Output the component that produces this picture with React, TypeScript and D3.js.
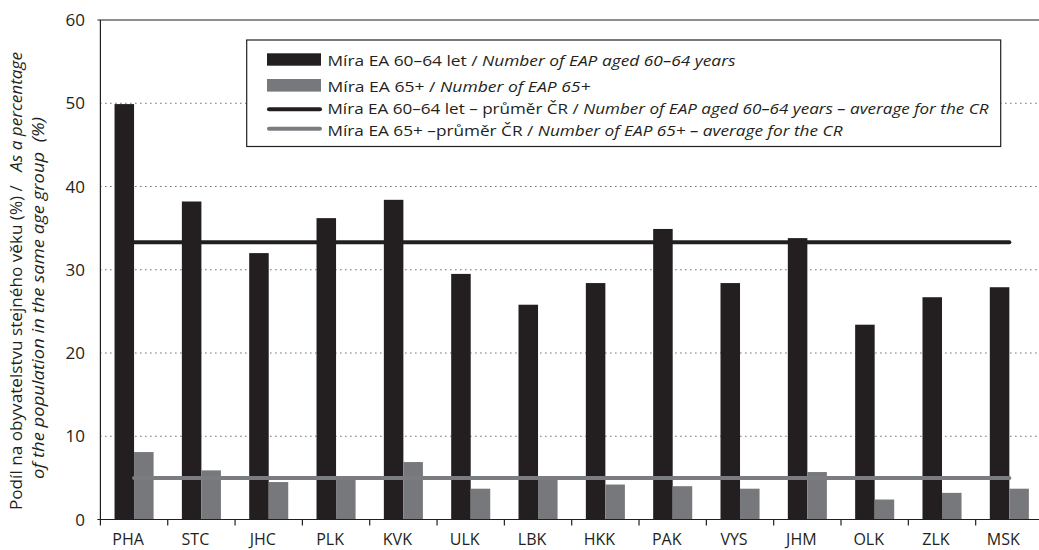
// Economic activity rates of older people by region
import React, { useEffect, useRef } from 'react';
import * as d3 from 'd3';

const regions = ['PHA', 'STC', 'JHC', 'PLK', 'KVK', 'ULK', 'LBK', 'HKK', 'PAK', 'VYS', 'JHM', 'OLK', 'ZLK', 'MSK'];
const rate6064 = [49.9, 38.2, 32.0, 36.2, 38.4, 29.5, 25.8, 28.4, 34.9, 28.4, 33.8, 23.4, 26.7, 27.9];
const rate65plus = [8.1, 5.9, 4.5, 5.0, 6.9, 3.7, 5.0, 4.2, 4.0, 3.7, 5.7, 2.4, 3.2, 3.7];
const avg6064 = 33.3;
const avg65plus = 5.0;
const yTicks = [0, 10, 20, 30, 40, 50, 60];
const gridTicks = [10, 20, 30, 40, 50];

const legendRegular = ['Míra EA 60–64 let / ', 'Míra EA 65+ / ', 'Míra EA 60–64 let – průměr ČR / ', 'Míra EA 65+ –průměr ČR / '];
const legendItalic = [
  'Number of EAP aged 60–64 years',
  'Number of EAP 65+',
  'Number of EAP aged 60–64 years – average for the CR',
  'Number of EAP 65+ – average for the CR',
];

const BLACK = '#231f20';
const GRAY = '#77787b';
const GRAY_LINE = '#7b7c7f';

const App: React.FC = () => {
  const svgRef = useRef<SVGSVGElement>(null);

  useEffect(() => {
    if (!svgRef.current) return;
    const svg = d3.select(svgRef.current);
    svg.selectAll('*').remove();

    const width = 1039;
    const height = 550;
    const left = 100.4;
    const right = 1043;
    const top = 20;
    const bottom = 519.5;

    svg.attr('width', width).attr('height', height);

    const x = d3.scaleBand<string>()
      .domain(regions)
      .range([left, right])
      .paddingInner(0.42)
      .paddingOuter(0.21);
    const inner = d3.scaleBand<string>()
      .domain(['a', 'b'])
      .range([0, x.bandwidth()]);
    const y = d3.scaleLinear().domain([0, 60]).range([bottom, top]);

    // dotted gridlines
    svg.append('g')
      .selectAll('line')
      .data(gridTicks)
      .join('line')
      .attr('x1', left)
      .attr('x2', width)
      .attr('y1', d => y(d))
      .attr('y2', d => y(d))
      .attr('stroke', BLACK)
      .attr('stroke-width', 1)
      .attr('stroke-dasharray', '1 4');

    // bars
    const bars = svg.append('g');
    bars.selectAll('rect.a')
      .data(rate6064)
      .join('rect')
      .attr('class', 'a')
      .attr('x', (_, i) => x(regions[i])! + inner('a')!)
      .attr('y', d => y(d))
      .attr('width', inner.bandwidth())
      .attr('height', d => bottom - y(d))
      .attr('fill', BLACK);
    bars.selectAll('rect.b')
      .data(rate65plus)
      .join('rect')
      .attr('class', 'b')
      .attr('x', (_, i) => x(regions[i])! + inner('b')!)
      .attr('y', d => y(d))
      .attr('width', inner.bandwidth())
      .attr('height', d => bottom - y(d))
      .attr('fill', GRAY);

    // average lines
    const firstC = x(regions[0])! + x.bandwidth() / 2;
    const lastC = x(regions[regions.length - 1])! + x.bandwidth() / 2;
    svg.append('line')
      .attr('x1', firstC).attr('x2', lastC)
      .attr('y1', y(avg6064)).attr('y2', y(avg6064))
      .attr('stroke', BLACK).attr('stroke-width', 4).attr('stroke-linecap', 'round');
    svg.append('line')
      .attr('x1', firstC).attr('x2', lastC)
      .attr('y1', y(avg65plus)).attr('y2', y(avg65plus))
      .attr('stroke', GRAY_LINE).attr('stroke-width', 4).attr('stroke-linecap', 'round');

    // axes frame
    svg.append('line').attr('x1', left).attr('x2', left).attr('y1', top).attr('y2', bottom)
      .attr('stroke', BLACK).attr('stroke-width', 1.2);
    svg.append('line').attr('x1', left - 3).attr('x2', width).attr('y1', top).attr('y2', top)
      .attr('stroke', BLACK).attr('stroke-width', 1.2);
    svg.append('line').attr('x1', left - 3).attr('x2', width).attr('y1', bottom).attr('y2', bottom)
      .attr('stroke', BLACK).attr('stroke-width', 1.2);

    // category boundary ticks
    const step = x.step();
    svg.append('g')
      .selectAll('line')
      .data(regions)
      .join('line')
      .attr('x1', d => x(d)! - step * 0.21)
      .attr('x2', d => x(d)! - step * 0.21)
      .attr('y1', bottom)
      .attr('y2', bottom + 6)
      .attr('stroke', BLACK)
      .attr('stroke-width', 1.2);

    // category labels
    svg.append('g')
      .selectAll('text')
      .data(regions)
      .join('text')
      .attr('x', d => x(d)! + x.bandwidth() / 2 - 6)
      .attr('y', 545)
      .attr('text-anchor', 'middle')
      .style('font-size', '16px')
      .attr('fill', BLACK)
      .text(d => d);

    // y tick labels
    svg.append('g')
      .selectAll('text')
      .data(yTicks)
      .join('text')
      .attr('x', 85)
      .attr('y', d => y(d))
      .attr('dy', '0.36em')
      .attr('text-anchor', 'end')
      .style('font-size', '17px')
      .attr('fill', BLACK)
      .text(d => d);

    // y axis title
    const t1 = svg.append('text')
      .attr('transform', 'translate(22,510) rotate(-90)')
      .attr('textLength', 458)
      .attr('lengthAdjust', 'spacingAndGlyphs')
      .style('font-size', '16px')
      .style('white-space', 'pre')
      .attr('fill', BLACK);
    t1.append('tspan').text('Podíl na obyvatelstvu stejného věku (%) /   ');
    t1.append('tspan').style('font-style', 'italic').text('As a percentage');

    svg.append('text')
      .attr('transform', 'translate(44,479) rotate(-90)')
      .attr('textLength', 362)
      .attr('lengthAdjust', 'spacingAndGlyphs')
      .style('font-size', '16px')
      .style('font-style', 'italic')
      .style('white-space', 'pre')
      .attr('fill', BLACK)
      .text('of the population in the same age group  (%)');

    // legend
    const lg = svg.append('g');
    lg.append('rect')
      .attr('x', 246.7).attr('y', 40)
      .attr('width', 754).attr('height', 106.5)
      .attr('fill', 'white')
      .attr('stroke', BLACK)
      .attr('stroke-width', 1.2);

    const textBase = [65.7, 91.5, 114, 136];
    const textWidth = [408, 263, 661, 515];
    lg.append('rect').attr('x', 267).attr('y', 53.3).attr('width', 54).attr('height', 12.4).attr('fill', BLACK);
    lg.append('rect').attr('x', 267).attr('y', 79).attr('width', 54).attr('height', 12.6).attr('fill', GRAY);
    lg.append('line').attr('x1', 269).attr('x2', 320).attr('y1', 109.3).attr('y2', 109.3)
      .attr('stroke', BLACK).attr('stroke-width', 4).attr('stroke-linecap', 'round');
    lg.append('line').attr('x1', 269).attr('x2', 320).attr('y1', 128.8).attr('y2', 128.8)
      .attr('stroke', GRAY_LINE).attr('stroke-width', 4).attr('stroke-linecap', 'round');

    legendRegular.forEach((reg, i) => {
      const t = lg.append('text')
        .attr('x', 327.5)
        .attr('y', textBase[i])
        .attr('textLength', textWidth[i])
        .attr('lengthAdjust', 'spacingAndGlyphs')
        .style('font-size', '15px')
        .style('white-space', 'pre')
        .attr('fill', BLACK);
      t.append('tspan').text(reg);
      t.append('tspan').style('font-style', 'italic').text(legendItalic[i]);
    });
  }, []);

  return (
    <svg
      ref={svgRef}
      style={{ position: 'absolute', left: 0, top: 0, fontFamily: "'Open Sans', sans-serif", background: 'white' }}
    />
  );
};

export default App;
